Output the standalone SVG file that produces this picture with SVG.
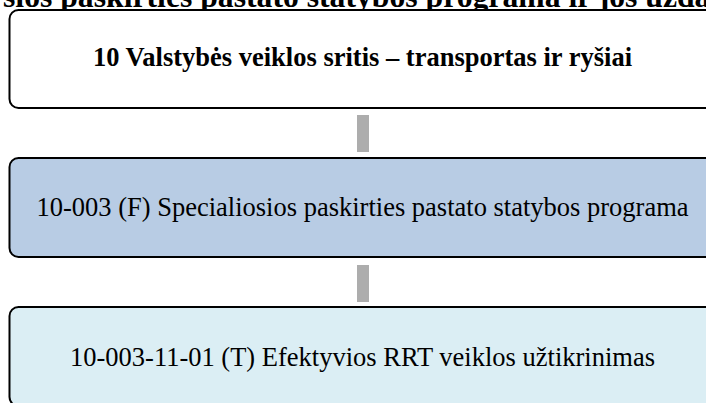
<svg xmlns="http://www.w3.org/2000/svg" width="706" height="403" viewBox="0 0 706 403">
<style>
.box{stroke:#000;stroke-width:2}
.t{font-family:"Liberation Serif","Times New Roman",serif;font-size:26.5px;fill:#000;text-anchor:middle}
.b{font-weight:bold}
.bar{fill:#adadad}
</style>
<rect width="706" height="403" fill="#fff"/>
<text x="3" y="7" font-family="Liberation Serif, Times New Roman, serif" font-size="31.7" font-weight="bold" fill="#000">sios paskirties pastato statybos programa ir jos užda</text>
<g id="connectors">
<rect class="bar" x="357" y="115" width="12" height="37"/>
<rect class="bar" x="357" y="265" width="12" height="37"/>
</g>
<g id="node1">
<rect class="box" x="9.5" y="10" width="708" height="98" rx="9" fill="#fff"/>
<text class="t b" x="362.5" y="66">10 Valstybės veiklos sritis – transportas ir ryšiai</text>
</g>
<g id="node2">
<rect class="box" x="9.5" y="158" width="708" height="99" rx="9" fill="#b8cce4"/>
<text class="t" x="362.5" y="216">10-003 (F) Specialiosios paskirties pastato statybos programa</text>
</g>
<g id="node3">
<rect class="box" x="9.5" y="307" width="708" height="99" rx="9" fill="#dbeef4"/>
<text class="t" x="362.5" y="366">10-003-11-01 (T) Efektyvios RRT veiklos užtikrinimas</text>
</g>
</svg>
